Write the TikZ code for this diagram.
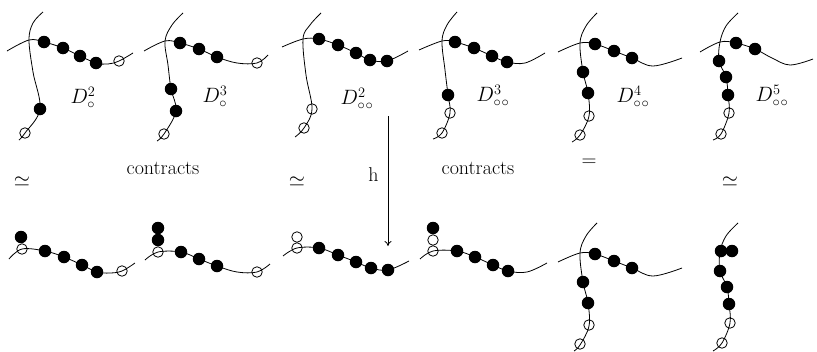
\documentclass[tikz,border=0pt]{standalone}
\usetikzlibrary{arrows.meta}
\newcommand{\oo}{\circ\mkern1mu\circ}
\begin{document}
\begin{tikzpicture}[x=1pt,y=-1pt,
  curve/.style={line width=0.8pt, smooth, tension=0.6},
  bd/.style={circle, fill=black, inner sep=0pt, minimum size=12.5pt},
  od/.style={circle, draw=black, line width=0.8pt, fill=none, inner sep=0pt, minimum size=10.5pt},
  lbl/.style={font=\fontsize{20}{24}\selectfont, inner sep=0pt},
]
\useasboundingbox (0,0) rectangle (817,351);

% ---------- top row ----------
% panel 1
\draw[curve] plot coordinates {(43,12) (33,23) (29,40) (33,72) (40,109) (25,133) (19,140)};
\draw[curve] plot coordinates {(7,51) (29,40) (44,42) (63,48) (80,56) (96,63) (108,64) (119,61) (133,53)};
\node[bd] (a1) at (44,42) {};
\node[bd] (a2) at (63,48) {};
\node[bd] (a3) at (80,56) {};
\node[bd] (a4) at (96,63) {};
\node[od] (a5) at (119,61) {};
\node[bd] (a6) at (40,109) {};
\node[od] (a7) at (25,133) {};
\node[lbl] (la) at (83,98) {$D^2_\circ$};

% panel 2
\draw[curve] plot coordinates {(183,13) (172,25) (165,41) (168,65) (171,89) (176,111) (164,134) (157,141)};
\draw[curve] plot coordinates {(144,51) (165,41) (180,43) (199,49) (217,57) (237,63) (257,63) (268,55)};
\node[bd] (b1) at (180,43) {};
\node[bd] (b2) at (199,49) {};
\node[bd] (b3) at (217,57) {};
\node[od] (b4) at (257,63) {};
\node[bd] (b5) at (171,89) {};
\node[bd] (b6) at (176,111) {};
\node[od] (b7) at (164,134) {};
\node[lbl] (lb) at (215,97) {$D^3_\circ$};

% panel 3
\draw[curve] plot coordinates {(321,13) (310,25) (303,39) (306,75) (312,109) (304,128) (295,137)};
\draw[curve] plot coordinates {(282,47) (303,39) (319,39) (338,45) (356,53) (370,60) (387,61) (408,51)};
\node[bd] (c1) at (319,39) {};
\node[bd] (c2) at (338,45) {};
\node[bd] (c3) at (356,53) {};
\node[bd] (c4) at (370,60) {};
\node[bd] (c5) at (387,61) {};
\node[od] (c6) at (312,109) {};
\node[od] (c7) at (304,128) {};
\node[lbl] (lc) at (357,99) {$D^2_{\oo}$};

% panel 4
\draw[curve] plot coordinates {(457,12) (447,25) (442,41) (445,70) (448,95) (450,113) (442,133) (433,139)};
\draw[curve] plot coordinates {(419,50) (442,41) (455,42) (474,48) (492,56) (507,62) (525,63) (545,53)};
\node[bd] (d1) at (455,42) {};
\node[bd] (d2) at (474,48) {};
\node[bd] (d3) at (492,56) {};
\node[bd] (d4) at (507,62) {};
\node[bd] (d5) at (448,95) {};
\node[od] (d6) at (450,113) {};
\node[od] (d7) at (442,133) {};
\node[lbl] (ld) at (493,96) {$D^3_{\oo}$};

% panel 5
\draw[curve] plot coordinates {(597,13) (586,26) (580,43) (583,72) (588,93) (589,116) (580,135) (572,142)};
\draw[curve] plot coordinates {(558,52) (580,43) (595,44) (614,51) (632,58) (653,66) (682,58)};
\node[bd] (e1) at (595,44) {};
\node[bd] (e2) at (614,51) {};
\node[bd] (e3) at (632,58) {};
\node[bd] (e4) at (583,72) {};
\node[bd] (e5) at (588,93) {};
\node[od] (e6) at (589,116) {};
\node[od] (e7) at (580,135) {};
\node[lbl] (le) at (633,97) {$D^4_{\oo}$};

% panel 6
\draw[curve] plot coordinates {(738,13) (726,26) (720,42) (719,61) (726,77) (728,95) (729,113) (721,134) (713,140)};
\draw[curve] plot coordinates {(700,52) (720,42) (736,43) (755,49) (772,58) (790,65) (813,59)};
\node[bd] (f1) at (736,43) {};
\node[bd] (f2) at (755,49) {};
\node[bd] (f3) at (719,61) {};
\node[bd] (f4) at (726,77) {};
\node[bd] (f5) at (728,95) {};
\node[od] (f6) at (729,113) {};
\node[od] (f7) at (721,134) {};
\node[lbl] (lf) at (772,96) {$D^5_{\oo}$};

% ---------- middle row ----------
\node[lbl] (m1) at (22,182) {$\simeq$};
\node[lbl] (m2) at (163,168) {contracts};
\node[lbl] (m3) at (297,182) {$\simeq$};
\node[lbl] (m4) at (478,168) {contracts};
\node[lbl] (m5) at (589,163) {$=$};
\node[lbl] (m6) at (730,182) {$\simeq$};

\coordinate (hs) at (388,116);
\coordinate (he) at (388,246);
\draw[line width=0.8pt, -{To[length=5pt,width=7pt]}] (hs) -- node[lbl, left=9pt, pos=0.45] (hl) {h} (he);

% ---------- bottom row ----------
% panel B1
\draw[curve] plot coordinates {(9,259) (22,249) (45,251) (64,257) (82,265) (97,272) (110,273) (122,271) (135,263)};
\node[bd] (g1) at (45,251) {};
\node[bd] (g2) at (64,257) {};
\node[bd] (g3) at (82,265) {};
\node[bd] (g4) at (97,272) {};
\node[od] (g5) at (122,271) {};
\node[od] (g6) at (22,249) {};
\node[bd] (g7) at (21,237) {};

% panel B2
\draw[curve] plot coordinates {(145,260) (158,252) (181,252) (199,259) (217,266) (237,272) (257,272) (270,264)};
\node[bd] (h1) at (181,252) {};
\node[bd] (h2) at (199,259) {};
\node[bd] (h3) at (217,266) {};
\node[od] (h4) at (257,272) {};
\node[od] (h5) at (158,252) {};
\node[bd] (h6) at (158,240) {};
\node[bd] (h7) at (158,228) {};

% panel B3
\draw[curve] plot coordinates {(283,256) (297,248) (319,248) (338,255) (356,262) (371,268) (388,270) (409,261)};
\node[bd] (i1) at (319,248) {};
\node[bd] (i2) at (338,255) {};
\node[bd] (i3) at (356,262) {};
\node[bd] (i4) at (371,268) {};
\node[bd] (i5) at (388,270) {};
\node[od] (i6) at (297,248) {};
\node[od] (i7) at (297,237) {};

% panel B4
\draw[curve] plot coordinates {(420,259) (433,251) (457,251) (475,257) (493,265) (508,271) (527,272) (547,263)};
\node[bd] (j1) at (457,251) {};
\node[bd] (j2) at (475,257) {};
\node[bd] (j3) at (493,265) {};
\node[bd] (j4) at (508,271) {};
\node[od] (j5) at (433,251) {};
\node[od] (j6) at (433,240) {};
\node[bd] (j7) at (433,228) {};

% panel B5
\draw[curve] plot coordinates {(597,223) (586,236) (580,253) (583,282) (588,303) (589,326) (580,345) (574,351)};
\draw[curve] plot coordinates {(558,262) (580,253) (595,254) (614,261) (632,268) (653,276) (682,268)};
\node[bd] (k1) at (595,254) {};
\node[bd] (k2) at (614,261) {};
\node[bd] (k3) at (632,268) {};
\node[bd] (k4) at (583,282) {};
\node[bd] (k5) at (588,303) {};
\node[od] (k6) at (589,325) {};
\node[od] (k7) at (580,344) {};

% panel B6
\draw[curve] plot coordinates {(738,223) (726,236) (720,252) (720,271) (727,287) (729,304) (730,323) (722,343) (713,351)};
\node[bd] (l1) at (721,251) {};
\node[bd] (l2) at (732,251) {};
\node[bd] (l3) at (720,271) {};
\node[bd] (l4) at (727,287) {};
\node[bd] (l5) at (729,304) {};
\node[od] (l6) at (730,323) {};
\node[od] (l7) at (722,343) {};
\end{tikzpicture}
\end{document}
